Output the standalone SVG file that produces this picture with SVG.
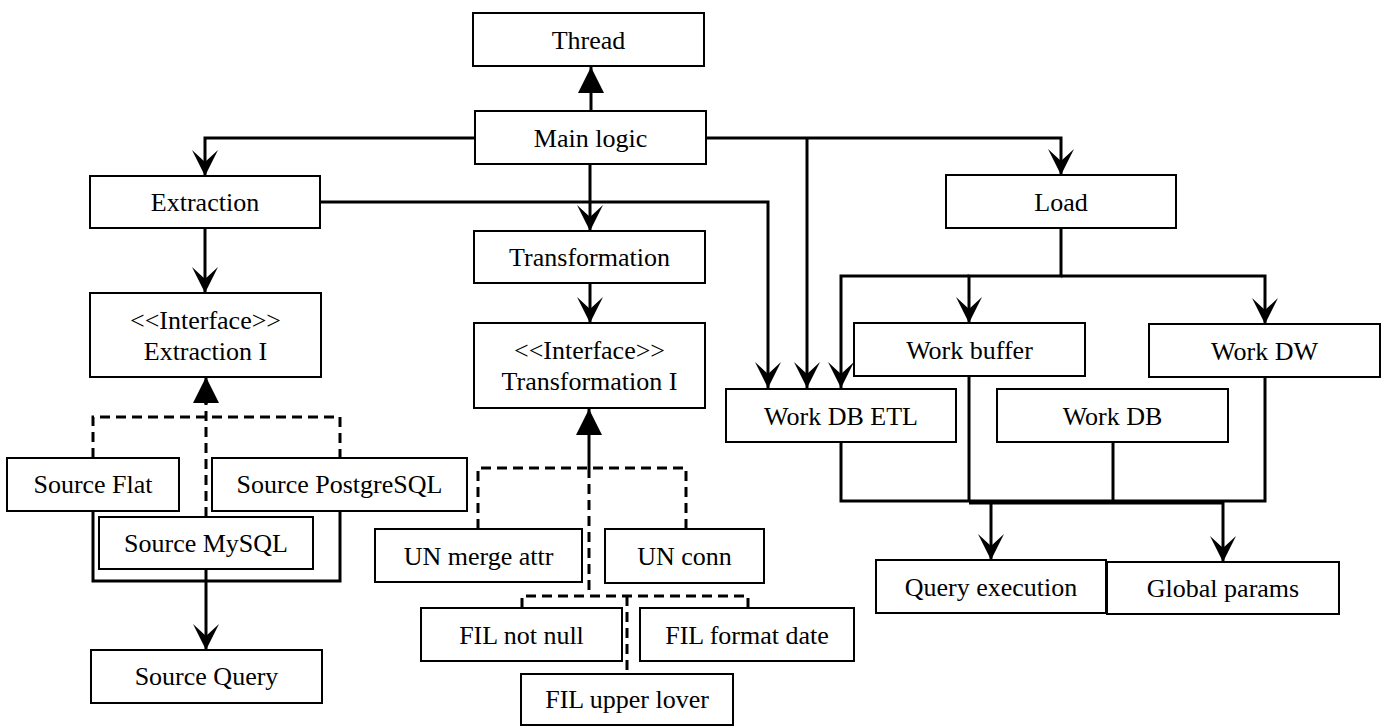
<svg xmlns="http://www.w3.org/2000/svg" width="1384" height="726" viewBox="0 0 1384 726">
<style>
.box{fill:#fff;stroke:#000;stroke-width:2}
.t{font-family:'Liberation Serif','Times New Roman','DejaVu Serif',serif;font-size:26px;fill:#000;text-anchor:middle}
.c{fill:none;stroke:#000;stroke-width:3}
.d{fill:none;stroke:#000;stroke-width:3;stroke-dasharray:10 6}
</style>
<defs>
<marker id="barb" viewBox="0 0 28 28" refX="26" refY="14" markerWidth="28" markerHeight="28" markerUnits="userSpaceOnUse" orient="auto">
<path d="M26,14 L0,1 L12,14 L0,27 Z" fill="#000"/>
</marker>
<marker id="tri" viewBox="0 0 28 28" refX="26" refY="14" markerWidth="28" markerHeight="28" markerUnits="userSpaceOnUse" orient="auto">
<path d="M26,14 L0,1 L0,27 Z" fill="#000"/>
</marker>
</defs>
<rect width="1384" height="726" fill="#fff"/>
<g id="connectors">
<path class="c" d="M591,111 V67" marker-end="url(#tri)"/>
<path class="c" d="M475,138 H205 V176" marker-end="url(#barb)"/>
<path class="c" d="M590,164 V231" marker-end="url(#barb)"/>
<path class="c" d="M706,138 H1061 V175" marker-end="url(#barb)"/>
<path class="c" d="M807,138 V388" marker-end="url(#barb)"/>
<path class="c" d="M320,202 H768 V388" marker-end="url(#barb)"/>
<path class="c" d="M205,228 V293" marker-end="url(#barb)"/>
<path class="c" d="M590,283 V323" marker-end="url(#barb)"/>
<path class="c" d="M1061,228 V276 H969 V323" marker-end="url(#barb)"/>
<path class="c" d="M969,276 H841 V388" marker-end="url(#barb)"/>
<path class="c" d="M1061,276 H1265 V324" marker-end="url(#barb)"/>
<path class="c" d="M93,511 V581 H340 V511"/>
<path class="c" d="M206,569 V650" marker-end="url(#barb)"/>
<path class="d" d="M93,458 V417 H340 V458"/>
<path class="d" d="M206,517 V403"/>
<path class="c" d="M206,404 V377" marker-end="url(#tri)"/>
<path class="c" d="M589,468 V409" marker-end="url(#tri)"/>
<path class="d" d="M478,529 V468 H686 V529"/>
<path class="d" d="M589,468 V596"/>
<path class="d" d="M522,608 V596 H748 V608"/>
<path class="d" d="M627,596 V674"/>
<path class="c" d="M841,442 V501 H1265 V377"/>
<path class="c" d="M969,376 V501"/>
<path class="c" d="M1113,442 V501"/>
<path class="c" d="M969,503 H1223"/>
<path class="c" d="M991,501 V560" marker-end="url(#barb)"/>
<path class="c" d="M1223,502 V562" marker-end="url(#barb)"/>
</g>
<g id="thread"><rect class="box" x="473" y="13" width="231" height="53"/><text class="t" x="588.5" y="48.5">Thread</text></g>
<g id="main-logic"><rect class="box" x="475" y="111" width="231" height="53"/><text class="t" x="590.5" y="146.5">Main logic</text></g>
<g id="extraction"><rect class="box" x="90" y="176" width="230" height="52"/><text class="t" x="205" y="211">Extraction</text></g>
<g id="transformation"><rect class="box" x="474" y="231" width="231" height="52"/><text class="t" x="589.5" y="266">Transformation</text></g>
<g id="load"><rect class="box" x="946" y="175" width="230" height="53"/><text class="t" x="1061" y="210.5">Load</text></g>
<g id="extraction-i"><rect class="box" x="90" y="293" width="231" height="84"/><text class="t" x="205.5" y="329">&lt;&lt;Interface&gt;&gt;</text><text class="t" x="205.5" y="360">Extraction I</text></g>
<g id="transformation-i"><rect class="box" x="474" y="323" width="231" height="85"/><text class="t" x="589.5" y="359">&lt;&lt;Interface&gt;&gt;</text><text class="t" x="589.5" y="390">Transformation I</text></g>
<g id="work-buffer"><rect class="box" x="854" y="323" width="231" height="53"/><text class="t" x="969.5" y="358.5">Work buffer</text></g>
<g id="work-dw"><rect class="box" x="1149" y="324" width="231" height="53"/><text class="t" x="1264.5" y="359.5">Work DW</text></g>
<g id="work-db-etl"><rect class="box" x="726" y="389" width="230" height="53"/><text class="t" x="841" y="424.5">Work DB ETL</text></g>
<g id="work-db"><rect class="box" x="997" y="389" width="231" height="53"/><text class="t" x="1112.5" y="424.5">Work DB</text></g>
<g id="source-flat"><rect class="box" x="7" y="458" width="172" height="53"/><text class="t" x="93" y="493">Source Flat</text></g>
<g id="source-postgresql"><rect class="box" x="212" y="458" width="255" height="53"/><text class="t" x="339.5" y="493">Source PostgreSQL</text></g>
<g id="source-mysql"><rect class="box" x="99" y="517" width="214" height="52"/><text class="t" x="206" y="552">Source MySQL</text></g>
<g id="source-query"><rect class="box" x="91" y="650" width="231" height="53"/><text class="t" x="206.5" y="685">Source Query</text></g>
<g id="un-merge-attr"><rect class="box" x="375" y="529" width="207" height="53"/><text class="t" x="478.5" y="564.5">UN merge attr</text></g>
<g id="un-conn"><rect class="box" x="605" y="529" width="159" height="54"/><text class="t" x="684.5" y="565">UN conn</text></g>
<g id="fil-not-null"><rect class="box" x="421" y="608" width="201" height="53"/><text class="t" x="521.5" y="643.5">FIL not null</text></g>
<g id="fil-format-date"><rect class="box" x="640" y="608" width="214" height="53"/><text class="t" x="747" y="643.5">FIL format date</text></g>
<g id="fil-upper-lover"><rect class="box" x="521" y="674" width="212" height="51"/><text class="t" x="627" y="708">FIL upper lover</text></g>
<g id="query-execution"><rect class="box" x="876" y="560" width="230" height="53"/><text class="t" x="991" y="595.5">Query execution</text></g>
<g id="global-params"><rect class="box" x="1107" y="562" width="232" height="52"/><text class="t" x="1223" y="597">Global params</text></g>
</svg>
